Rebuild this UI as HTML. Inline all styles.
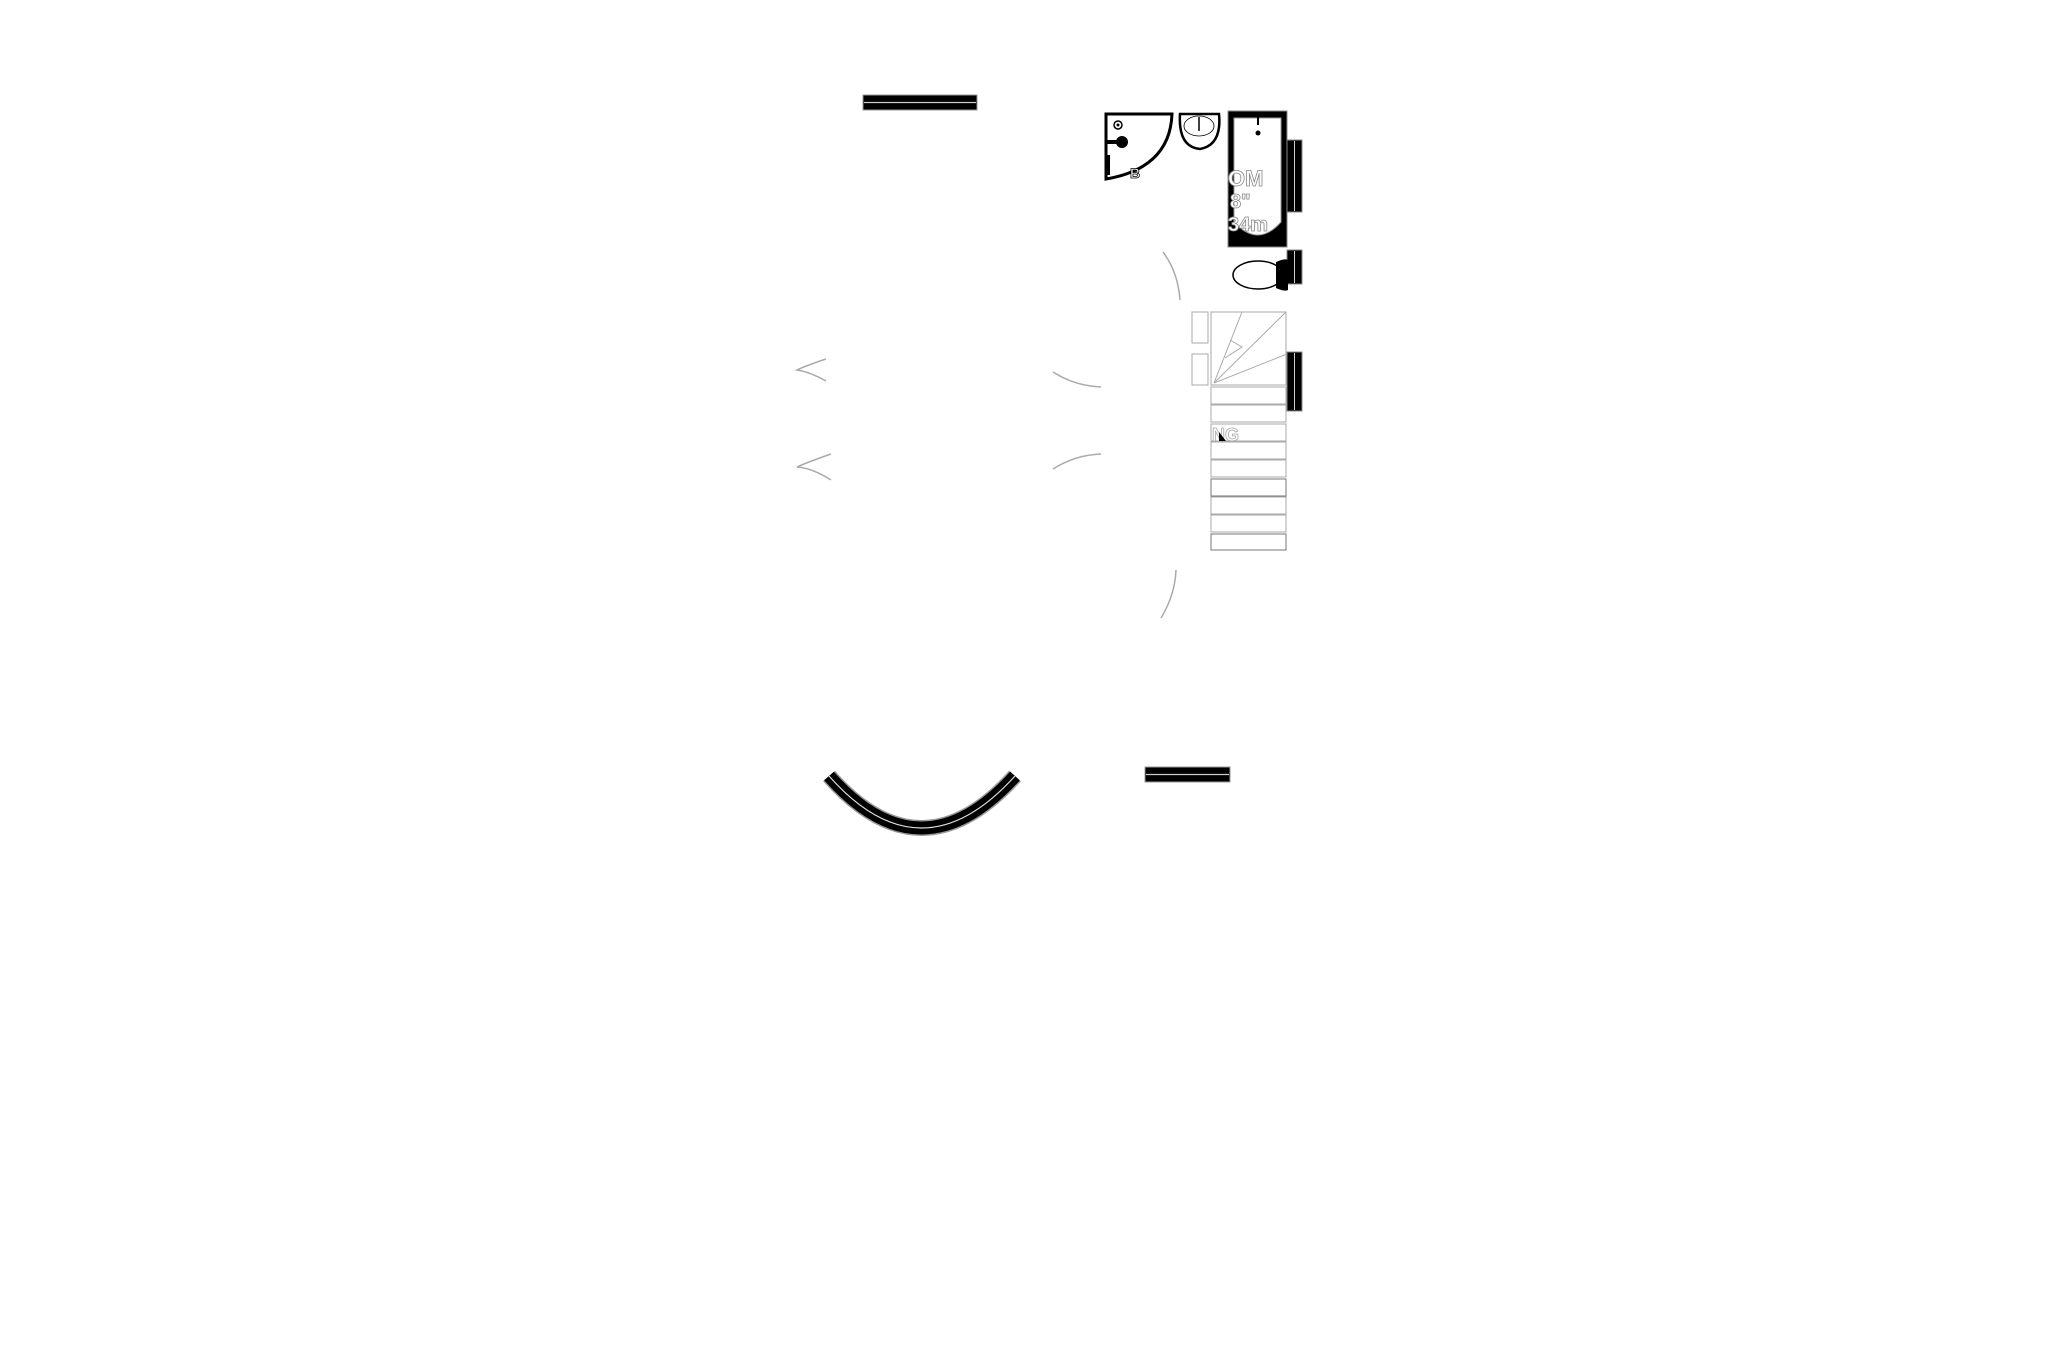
<!DOCTYPE html>
<html><head><meta charset="utf-8"><style>
html,body{margin:0;padding:0;background:#fff;}
svg{display:block;}
text{font-family:"Liberation Sans",sans-serif;font-weight:bold;}
</style></head><body>
<svg width="2057" height="1371" viewBox="0 0 2057 1371" xmlns="http://www.w3.org/2000/svg">
<rect width="2057" height="1371" fill="#fff"/>
<!-- top wall bar -->
<rect x="863" y="95" width="114" height="15" fill="#000" stroke="#999" stroke-width="1"/>
<line x1="864" y1="102.5" x2="976" y2="102.5" stroke="#ccc" stroke-width="1.2"/>
<!-- bottom right bar -->
<rect x="1145" y="767" width="85" height="15" fill="#000" stroke="#999" stroke-width="1"/>
<line x1="1146" y1="774.5" x2="1229" y2="774.5" stroke="#ccc" stroke-width="1.2"/>
<!-- bottom curved wall -->
<path d="M829 776 Q921 880 1015 776" fill="none" stroke="#999" stroke-width="16"/>
<path d="M829 776 Q921 880 1015 776" fill="none" stroke="#000" stroke-width="13"/>
<path d="M829 776 Q921 880 1015 776" fill="none" stroke="#ddd" stroke-width="1.2"/>
<!-- chevrons -->
<g fill="none" stroke="#aaa" stroke-width="1.5">
<path d="M826 359 Q805 366 797 370 Q810 372 826 381"/>
<path d="M831 454 Q808 462 797 467 Q812 468 831 480"/>
<path d="M1053 372 Q1075 386 1101 387"/>
<path d="M1053 469 Q1075 455 1101 454"/>
<path d="M1163 252 Q1178 272 1180 300"/>
<path d="M1176 570 Q1175 595 1161 618"/>
</g>
<!-- shower quadrant -->
<path d="M1106 114 L1172 114 Q1170 168 1106 179 Z" fill="#fff" stroke="#000" stroke-width="3"/>
<circle cx="1118" cy="125" r="4" fill="#fff" stroke="#000" stroke-width="1.5"/>
<circle cx="1118" cy="125" r="1.5" fill="#000"/>
<circle cx="1122" cy="142" r="6" fill="#000"/>
<rect x="1106" y="140" width="12" height="4" fill="#000"/>
<rect x="1105" y="155" width="5" height="20" fill="#000"/>
<text x="1130" y="178" font-size="14" fill="#fff" stroke="#000" stroke-width="0.8">B</text>
<!-- basin -->
<path d="M1180 114 L1219 114 Q1222 145 1200 149 Q1178 147 1180 114 Z" fill="#fff" stroke="#000" stroke-width="2.5"/>
<ellipse cx="1199" cy="126" rx="15" ry="10" fill="none" stroke="#000" stroke-width="0.8"/>
<line x1="1199" y1="117" x2="1199" y2="131" stroke="#000" stroke-width="1.5"/>
<!-- bath -->
<rect x="1228" y="111" width="59" height="136" fill="#000" stroke="#888" stroke-width="1"/>
<path d="M1234 118 L1281 118 L1281 222 Q1258 248 1234 222 Z" fill="#fff" stroke="#999" stroke-width="1"/>
<line x1="1258" y1="115" x2="1258" y2="125" stroke="#000" stroke-width="2"/>
<circle cx="1258" cy="133" r="2.5" fill="#000"/>
<text x="1228" y="186" font-size="22" fill="#fff" stroke="#888" stroke-width="0.8">OM</text>
<text x="1230" y="208" font-size="20" fill="#fff" stroke="#888" stroke-width="0.8">8"</text>
<text x="1228" y="231" font-size="20" fill="#fff" stroke="#888" stroke-width="0.8">34m</text>
<!-- right wall bars -->
<rect x="1287" y="140" width="15" height="72" fill="#000" stroke="#888"/>
<line x1="1294.5" y1="141" x2="1294.5" y2="211" stroke="#ccc"/>
<rect x="1287" y="250" width="15" height="34" fill="#000" stroke="#888"/>
<line x1="1294.5" y1="251" x2="1294.5" y2="283" stroke="#ccc"/>
<rect x="1287" y="352" width="15" height="59" fill="#000" stroke="#888"/>
<line x1="1294.5" y1="353" x2="1294.5" y2="410" stroke="#ccc"/>
<!-- toilet -->
<ellipse cx="1258" cy="275" rx="25" ry="14" fill="#fff" stroke="#000" stroke-width="1.5"/>
<path d="M1276 262 Q1285 258 1288 260 L1288 290 Q1285 292 1276 288 Z" fill="#000"/>
<!-- stairs -->
<g fill="none" stroke="#aaa" stroke-width="1">
<rect x="1192" y="312" width="16" height="31"/>
<rect x="1192" y="354" width="16" height="31"/>
<rect x="1211" y="312" width="75" height="73"/>
<line x1="1214" y1="383" x2="1286" y2="312"/>
<line x1="1214" y1="383" x2="1287" y2="354"/>
<line x1="1214" y1="383" x2="1242" y2="312"/>
<path d="M1230 340 L1242 347 L1225 358"/>
<rect x="1211" y="387" width="75" height="17"/>
<rect x="1211" y="405" width="75" height="17"/>
<rect x="1211" y="424" width="75" height="17"/>
<rect x="1211" y="442" width="75" height="17"/>
<rect x="1211" y="460" width="75" height="17"/>
<rect x="1211" y="479" width="75" height="17" stroke="#777"/>
<rect x="1211" y="497" width="75" height="17"/>
<rect x="1211" y="515" width="75" height="17"/>
<rect x="1211" y="534" width="75" height="16" stroke="#777"/>
</g>
<text x="1212" y="441" font-size="18" fill="#fff" stroke="#aaa" stroke-width="0.8">NG</text>
<path d="M1219 432 L1226 441 L1219 441 Z" fill="#000"/>
</svg>
</body></html>
